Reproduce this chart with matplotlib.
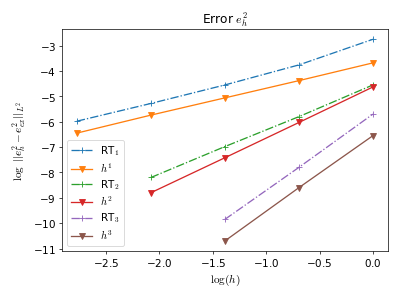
import numpy as np
import matplotlib
matplotlib.use("Agg")
import matplotlib.pyplot as plt

plt.rcParams['mathtext.fontset'] = 'cm'
plt.rcParams['axes.formatter.use_mathtext'] = True
plt.rcParams['font.size'] = 12

logh = [-2.773, -2.079, -1.386, -0.693, 0.0]
rt1 = [-5.98, -5.28, -4.55, -3.76, -2.75]
h1 = [-6.45, -5.74, -5.06, -4.38, -3.68]
rt2 = [-8.2, -6.98, -5.8, -4.55]
h2 = [-8.8, -7.42, -6.03, -4.63]
rt3 = [-9.85, -7.8, -5.7]
h3 = [-10.7, -8.6, -6.55]

fig, ax = plt.subplots(figsize=(6.4, 4.8), dpi=62.34)
ms = 7
ax.plot(logh, rt1, '-.', marker='+', ms=ms, label=r'RT$_1$')
ax.plot(logh, h1, '-', marker='v', ms=ms, label=r'$h^1$')
ax.plot(logh[1:], rt2, '-.', marker='+', ms=ms, label=r'RT$_2$')
ax.plot(logh[1:], h2, '-', marker='v', ms=ms, label=r'$h^2$')
ax.plot(logh[2:], rt3, '-.', marker='+', ms=ms, label=r'RT$_3$')
ax.plot(logh[2:], h3, '-', marker='v', ms=ms, label=r'$h^3$')
ax.set_title(r'Error $e_h^2$', fontsize=14)
ax.set_xlabel(r'$\log(h)$', fontsize=13)
ax.set_ylabel(r'$\log\ ||e_h^2 - e_{ex}^2||_{L^2}$', fontsize=13)
ax.legend(loc='lower left', fontsize=12, labelspacing=0.3)
fig.tight_layout()
fig.savefig('out.png')
